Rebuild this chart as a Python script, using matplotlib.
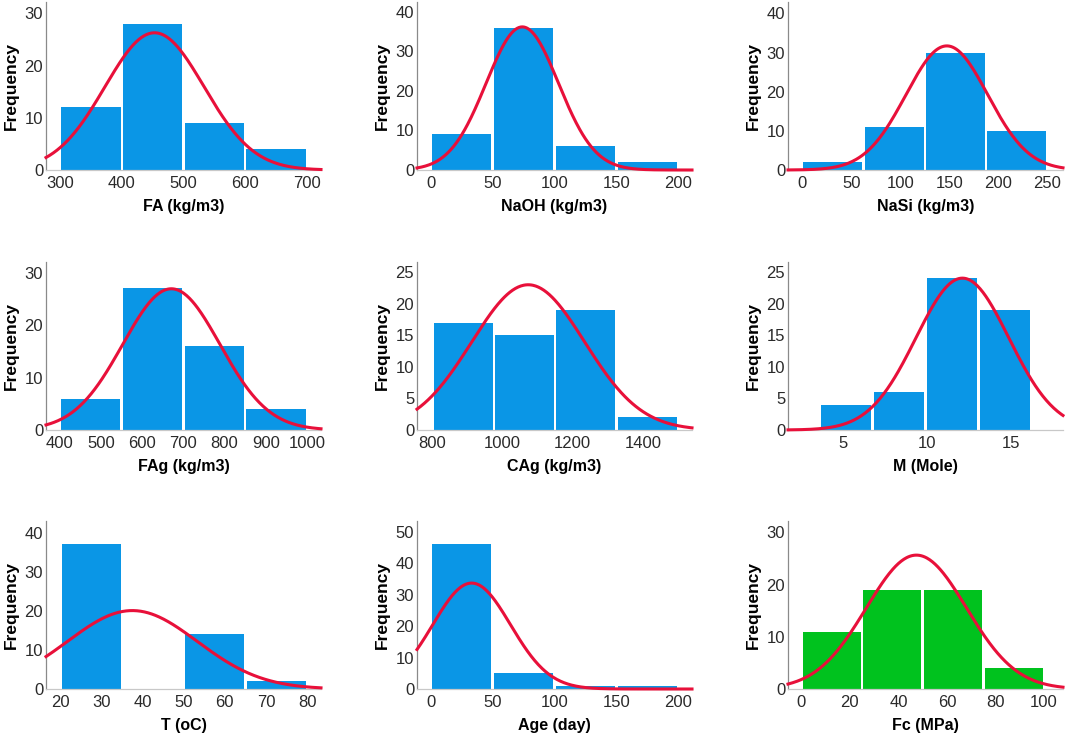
import numpy as np
import matplotlib
matplotlib.use("Agg")
import matplotlib.pyplot as plt

plt.rcParams['font.family'] = ['Liberation Sans', 'DejaVu Sans']

## DATA ##
# x-axis titles of the nine histograms (row by row)
labels = ["FA (kg/m3)", "NaOH (kg/m3)", "NaSi (kg/m3)",
          "FAg (kg/m3)", "CAg (kg/m3)", "M (Mole)",
          "T (oC)", "Age (day)", "Fc (MPa)"]

# bin edges of each histogram
bin_edges = [[300, 400, 500, 600, 700],
             [0, 50, 100, 150, 200],
             [0, 62.5, 125, 187.5, 250],
             [400, 550, 700, 850, 1000],
             [800, 975, 1150, 1325, 1500],
             [3.6, 6.75, 9.9, 13.05, 16.2],
             [20, 35, 50, 65, 80],
             [0, 50, 100, 150, 200],
             [0, 25, 50, 75, 100]]

# frequency in each bin (53 samples each)
counts = [[12, 28, 9, 4],
          [9, 36, 6, 2],
          [2, 11, 30, 10],
          [6, 27, 16, 4],
          [17, 15, 19, 2],
          [4, 6, 24, 19],
          [37, 0, 14, 2],
          [46, 5, 1, 1],
          [11, 19, 19, 4]]

# fitted normal curve: mean and std dev
curve_mean = [453, 74, 147.5, 671, 1073, 12.1, 37.5, 33.1, 47.4]
curve_sd = [80.4, 29.2, 41.7, 117.9, 160.9, 2.77, 15.8, 31.4, 20.6]

# axis ranges and ticks
x_limits = [(277, 723), (-11, 211), (-14.5, 266), (367, 1034), (756, 1540),
            (1.7, 18.1), (16.5, 83.4), (-11, 211), (-5.5, 107.8)]
x_ticks = [[300, 400, 500, 600, 700],
           [0, 50, 100, 150, 200],
           [0, 50, 100, 150, 200, 250],
           [400, 500, 600, 700, 800, 900, 1000],
           [800, 1000, 1200, 1400],
           [5, 10, 15],
           [20, 30, 40, 50, 60, 70, 80],
           [0, 50, 100, 150, 200],
           [0, 20, 40, 60, 80, 100]]
y_tops = [32.2, 42.5, 42.9, 32.0, 26.6, 26.6, 43.0, 53.4, 32.2]
y_ticks = [[0, 10, 20, 30],
           [0, 10, 20, 30, 40],
           [0, 10, 20, 30, 40],
           [0, 10, 20, 30],
           [0, 5, 10, 15, 20, 25],
           [0, 5, 10, 15, 20, 25],
           [0, 10, 20, 30, 40],
           [0, 10, 20, 30, 40, 50],
           [0, 10, 20, 30]]

bar_colors = ["#0A96E6"] * 8 + ["#00C21E"]

## LAYOUT (pixels of a 1065x737 figure) ##
W, H = 1065, 737
col_left = [46, 417, 788]
col_width = 275
row_zero = [170, 430, 689]
row_height = 168
gap_px = 2.5  # white gap between bars

fig = plt.figure(figsize=(W / 100, H / 100), dpi=100)

for i in range(9):
    r, c = divmod(i, 3)
    ax = fig.add_axes([col_left[c] / W, 1 - row_zero[r] / H,
                       col_width / W, row_height / H])

    edges = np.array(bin_edges[i])
    widths = np.diff(edges)
    gap = gap_px * (x_limits[i][1] - x_limits[i][0]) / col_width
    ax.bar(edges[:-1] + gap / 2, counts[i], width=widths - gap, align='edge',
           color=bar_colors[i], linewidth=0, zorder=2)

    # normal curve scaled to counts
    n = sum(counts[i])
    xs = np.linspace(x_limits[i][0], x_limits[i][1], 300)
    ys = n * widths[0] * np.exp(-0.5 * ((xs - curve_mean[i]) / curve_sd[i]) ** 2) \
        / (curve_sd[i] * np.sqrt(2 * np.pi))
    ax.plot(xs, ys, color='#E8103A', linewidth=2.2, zorder=3, clip_on=False)

    ax.set_xlim(x_limits[i])
    ax.set_ylim(0, y_tops[i])
    ax.set_xticks(x_ticks[i])
    ax.set_yticks(y_ticks[i])
    ax.tick_params(length=0, labelsize=12, colors='#2a2a2a')
    ax.tick_params(axis='x', pad=4)
    ax.tick_params(axis='y', pad=2)

    for s in ['top', 'right']:
        ax.spines[s].set_visible(False)
    ax.spines['left'].set_color('#8a8a8a')
    ax.spines['left'].set_linewidth(0.9)
    ax.spines['bottom'].set_color('#c8c8c8')
    ax.spines['bottom'].set_linewidth(0.9)

    ax.set_xlabel(labels[i], fontsize=11.5, fontweight='bold', labelpad=6)
    ax.set_ylabel("Frequency", fontsize=12.5, fontweight='bold', labelpad=4)

fig.savefig("out.png", dpi=100)
